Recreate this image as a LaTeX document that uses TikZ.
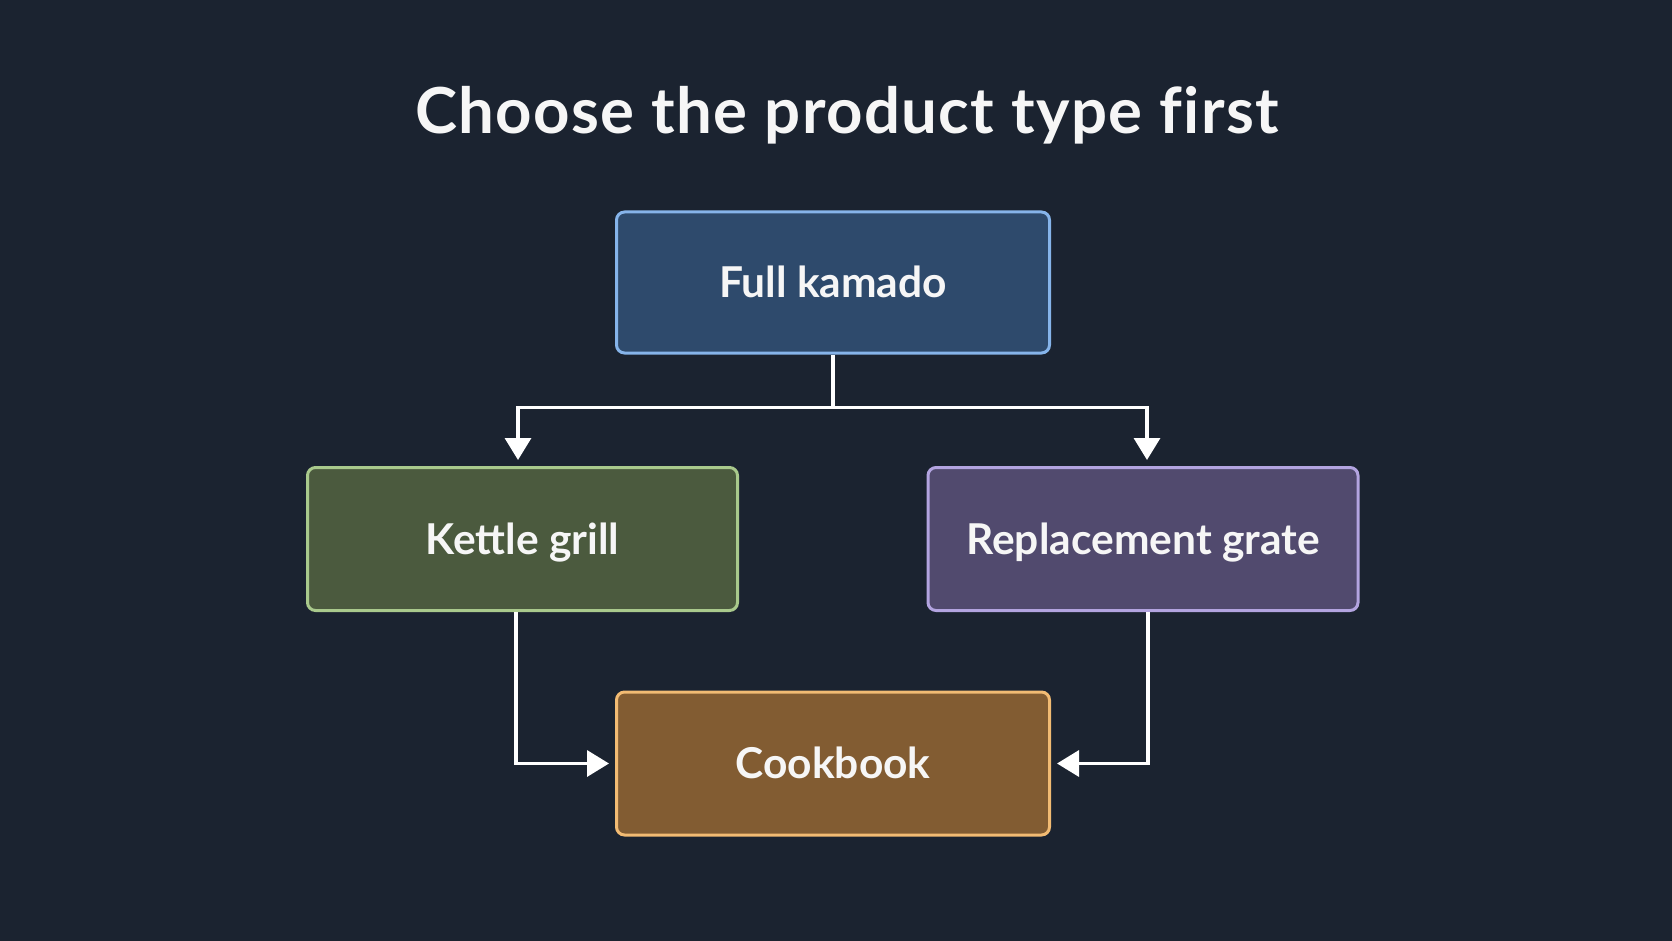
\documentclass[tikz,border=0pt]{standalone}
\usepackage{fontspec}
\setmainfont{Lato}
\usetikzlibrary{arrows.meta,calc}
\definecolor{bg}{HTML}{1B2330}
\definecolor{kamfill}{HTML}{2E4A6C}
\definecolor{kamline}{HTML}{86B4EA}
\definecolor{ketfill}{HTML}{4B5A3E}
\definecolor{ketline}{HTML}{A9C98C}
\definecolor{repfill}{HTML}{514A6E}
\definecolor{repline}{HTML}{B3A4E0}
\definecolor{cokfill}{HTML}{825C32}
\definecolor{cokline}{HTML}{F2BB73}
\definecolor{txt}{HTML}{F6F6F6}
\tikzset{
  box/.style={draw, line width=3pt, rounded corners=8pt, minimum width=433pt, minimum height=141pt,
    inner sep=0pt, text=txt, font=\fontsize{42.5}{50}\selectfont\bfseries,
    text height=30.5pt, text depth=0pt},
  conn/.style={draw=white, line width=3.4pt, -{Triangle[width=26pt,length=22pt]}, shorten >=6pt},
}
\begin{document}
\begin{tikzpicture}[x=1pt,y=-1pt]
\fill[bg] (0,0) rectangle (1672,941);
\useasboundingbox (0,0) rectangle (1672,941);
\node[anchor=base, text=txt, font=\fontsize{63.5}{70}\selectfont\bfseries\addfontfeature{LetterSpace=2.2,Ligatures=NoCommon}] (title) at (847,134) {Choose the product type first};
\node[box, fill=kamfill, draw=kamline] (kamado) at (833,282.5) {Full kamado};
\node[box, fill=ketfill, draw=ketline, minimum width=430pt, minimum height=143pt] (kettle) at (522.5,539) {Kettle grill};
\node[box, fill=repfill, draw=repline, minimum width=430pt, minimum height=143pt] (grate) at (1143,539) {Replacement grate};
\node[box, fill=cokfill, draw=cokline, minimum height=143pt] (cook) at (833,763.5) {Cookbook};
\coordinate (split) at ($(kamado.south)+(0,53)$);
\draw[white, line width=3.4pt] (kamado.south) -- (split);
\draw[conn] (split) -| ([xshift=-4.5pt]kettle.north);
\draw[conn] (split) -| ([xshift=4pt]grate.north);
\draw[conn] ([xshift=-6.5pt]kettle.south) |- (cook.west);
\draw[conn] ([xshift=5pt]grate.south) |- (cook.east);
\end{tikzpicture}
\end{document}
